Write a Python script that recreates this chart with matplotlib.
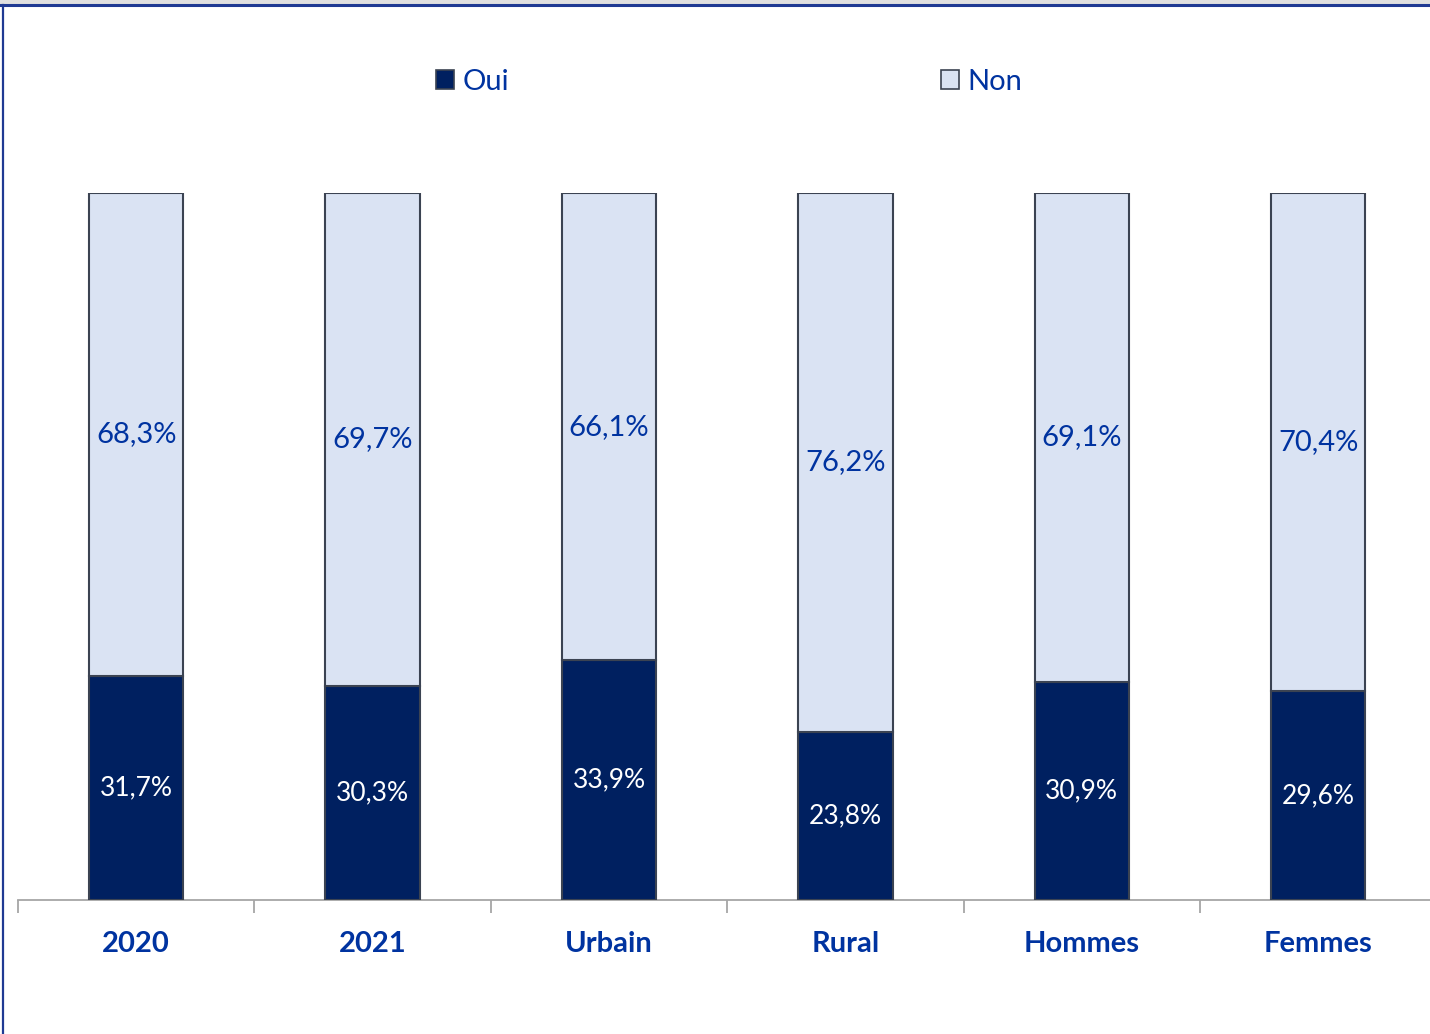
import matplotlib
matplotlib.use("Agg")
import matplotlib.pyplot as plt
from matplotlib.patches import Patch
from matplotlib.lines import Line2D

categories = ["2020", "2021", "Urbain", "Rural", "Hommes", "Femmes"]
oui = [31.7, 30.3, 33.9, 23.8, 30.9, 29.6]
non = [68.3, 69.7, 66.1, 76.2, 69.1, 70.4]

DARK = "#002060"
LIGHT = "#DAE3F3"
EDGE = "#3B4352"
TXT = "#0033A0"

plt.rcParams['font.family'] = ['Lato', 'DejaVu Sans']

W, H = 1430, 1034
fig = plt.figure(figsize=(W / 100, H / 100), dpi=100)

# axes: x from 18 px, 236.4 px per category; y: 900 px -> 0, 193 px -> 100
left = 18 / W
width = 6 * 236.4 / W
bottom = (H - 900) / H
height = (900 - 193) / H
ax = fig.add_axes([left, bottom, width, height])

x = list(range(len(categories)))
ax.bar(x, oui, width=0.40, color=DARK, edgecolor=EDGE, linewidth=1.5, label="Oui", zorder=3)
ax.bar(x, non, width=0.40, bottom=oui, color=LIGHT, edgecolor=EDGE, linewidth=1.5, label="Non", zorder=3)

for i in x:
    ax.text(i, oui[i] / 2, f"{oui[i]:.1f}%".replace(".", ","), ha="center", va="center",
            color="white", fontsize=19)
    ax.text(i, oui[i] + non[i] / 2, f"{non[i]:.1f}%".replace(".", ","), ha="center", va="center",
            color=TXT, fontsize=21)

ax.set_xlim(-0.5, 5.5)
ax.set_ylim(0, 100)
for s in ["top", "right", "left"]:
    ax.spines[s].set_visible(False)
ax.spines["bottom"].set_color("#A6A6A6")
ax.spines["bottom"].set_linewidth(1.3)
ax.set_yticks([])
ax.set_xticks([i - 0.5 for i in x])
ax.set_xticklabels([])
ax.tick_params(axis="x", length=9, width=1.3, color="#A6A6A6", direction="out")
ax.set_xticks(x, minor=True)
ax.set_xticklabels(categories, minor=True, fontsize=21, fontweight="bold", color=TXT)
ax.tick_params(axis="x", which="minor", length=0, pad=22)

# legend
handles = [Patch(facecolor=DARK, edgecolor=EDGE, linewidth=1.2),
           Patch(facecolor=LIGHT, edgecolor=EDGE, linewidth=1.2)]
fig.legend(handles, ["Oui", "Non"], loc="center", bbox_to_anchor=(729 / W, 1 - 82 / H),
           ncol=2, frameon=False, fontsize=21, labelcolor=TXT, handlelength=0.62,
           handleheight=0.62, handletextpad=0.3, columnspacing=14.8)

# chart frame lines (top and left)
fig.add_artist(Line2D([0, 1], [1 - 4.5 / H, 1 - 4.5 / H], color="#1F3A93", linewidth=2.2))
fig.add_artist(Line2D([3 / W, 3 / W], [0, 1 - 4.5 / H], color="#1F3A93", linewidth=1.6))
fig.patches.append(plt.Rectangle((0, 1 - 4 / H), 1, 4 / H, transform=fig.transFigure,
                                 facecolor="#E0E0E0", edgecolor="none"))

fig.savefig("out.png", dpi=100)
